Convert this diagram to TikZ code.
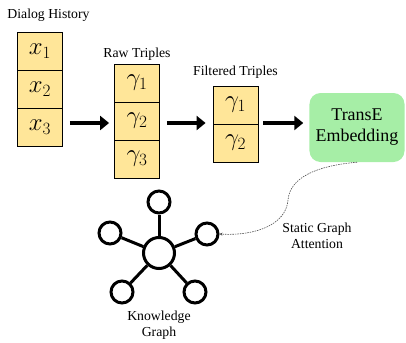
\documentclass[tikz,border=0pt]{standalone}
\usepackage{fontspec}
\setmainfont{Liberation Serif}
\usepackage{tikz}
\usetikzlibrary{arrows.meta,shapes}
\definecolor{cellyellow}{RGB}{255,230,153}
\definecolor{embgreen}{RGB}{166,238,166}

\begin{document}
\begin{tikzpicture}[x=1bp,y=-1bp,
  cell/.style={draw,fill=cellyellow,line width=0.8bp,minimum width=45bp,minimum height=38bp,inner sep=0pt,font=\fontsize{27}{29}\selectfont},
  caption/.style={font=\fontsize{13.8}{15.5}\selectfont,align=center},
  flow/.style={-{Triangle[length=9bp,width=14bp]},line width=4.5bp,draw=black},
  kgnode/.style={draw,circle,line width=3bp,fill=white,inner sep=0pt},
  kgedge/.style={line width=3bp}]

\useasboundingbox (0,0) rectangle (406,343);

% dialog history
\node (dh) at (48.5,15)[caption] {Dialog History};
\node (d1) at (40,51)[cell] {$x_1$};
\node (d2) at (40,89)[cell] {$x_2$};
\node (d3) at (40,127)[cell] {$x_3$};

% raw triples
\node (rt) at (137,54)[caption] {Raw Triples};
\node (r1) at (137,83)[cell] {$\gamma_1$};
\node (r2) at (137,121)[cell] {$\gamma_2$};
\node (r3) at (137,159)[cell] {$\gamma_3$};

% filtered triples
\node (ft) at (235.5,72)[caption] {Filtered Triples};
\node (f1) at (235.5,105)[cell] {$\gamma_1$};
\node (f2) at (235.5,143)[cell] {$\gamma_2$};

% embedding
\node (transe) at (357,127.5)[draw=none,fill=embgreen,rounded corners=11bp,minimum width=95bp,minimum height=69bp,align=center,font=\fontsize{18}{21}\selectfont] {TransE\\Embedding};

\draw [flow] ([xshift=7bp]d3.east |- 0,123) -- ([xshift=-5bp]r2.west |- 0,123);
\draw [flow] ([xshift=7bp]r2.east |- 0,123) -- ([xshift=-7bp]f1.south west |- 0,123);
\draw [flow] ([xshift=5bp]f1.south east |- 0,123) -- ([xshift=-6bp]transe.west |- 0,123);

% knowledge graph
\node (hub) at (159,253)[kgnode,minimum size=31bp] {};
\node (kt) at (159,202)[kgnode,minimum size=22bp] {};
\node (kl) at (110,233)[kgnode,minimum size=22bp] {};
\node (kr) at (207,234)[kgnode,minimum size=22bp] {};
\node (kbl) at (122,292)[kgnode,minimum size=22bp] {};
\node (kbr) at (195,292)[kgnode,minimum size=22bp] {};
\draw [kgedge] (hub) -- (kt);
\draw [kgedge] (hub) -- (kl);
\draw [kgedge] (hub) -- (kr);
\draw [kgedge] (hub) -- (kbl);
\draw [kgedge] (hub) -- (kbr);
\node (kg) at (159,325)[caption] {Knowledge\\Graph};

% attention
\draw [-{Stealth[length=3bp,width=3bp]},dash pattern=on 1.5bp off 1bp,line width=0.6bp,draw=black!70]
  (transe.south) .. controls (315,166) and (290,178) .. (288,200)
  .. controls (286,225) and (255,236) .. (kr.east);
\node (sga) at (317,236)[caption] {Static Graph\\Attention};
\end{tikzpicture}
\end{document}
